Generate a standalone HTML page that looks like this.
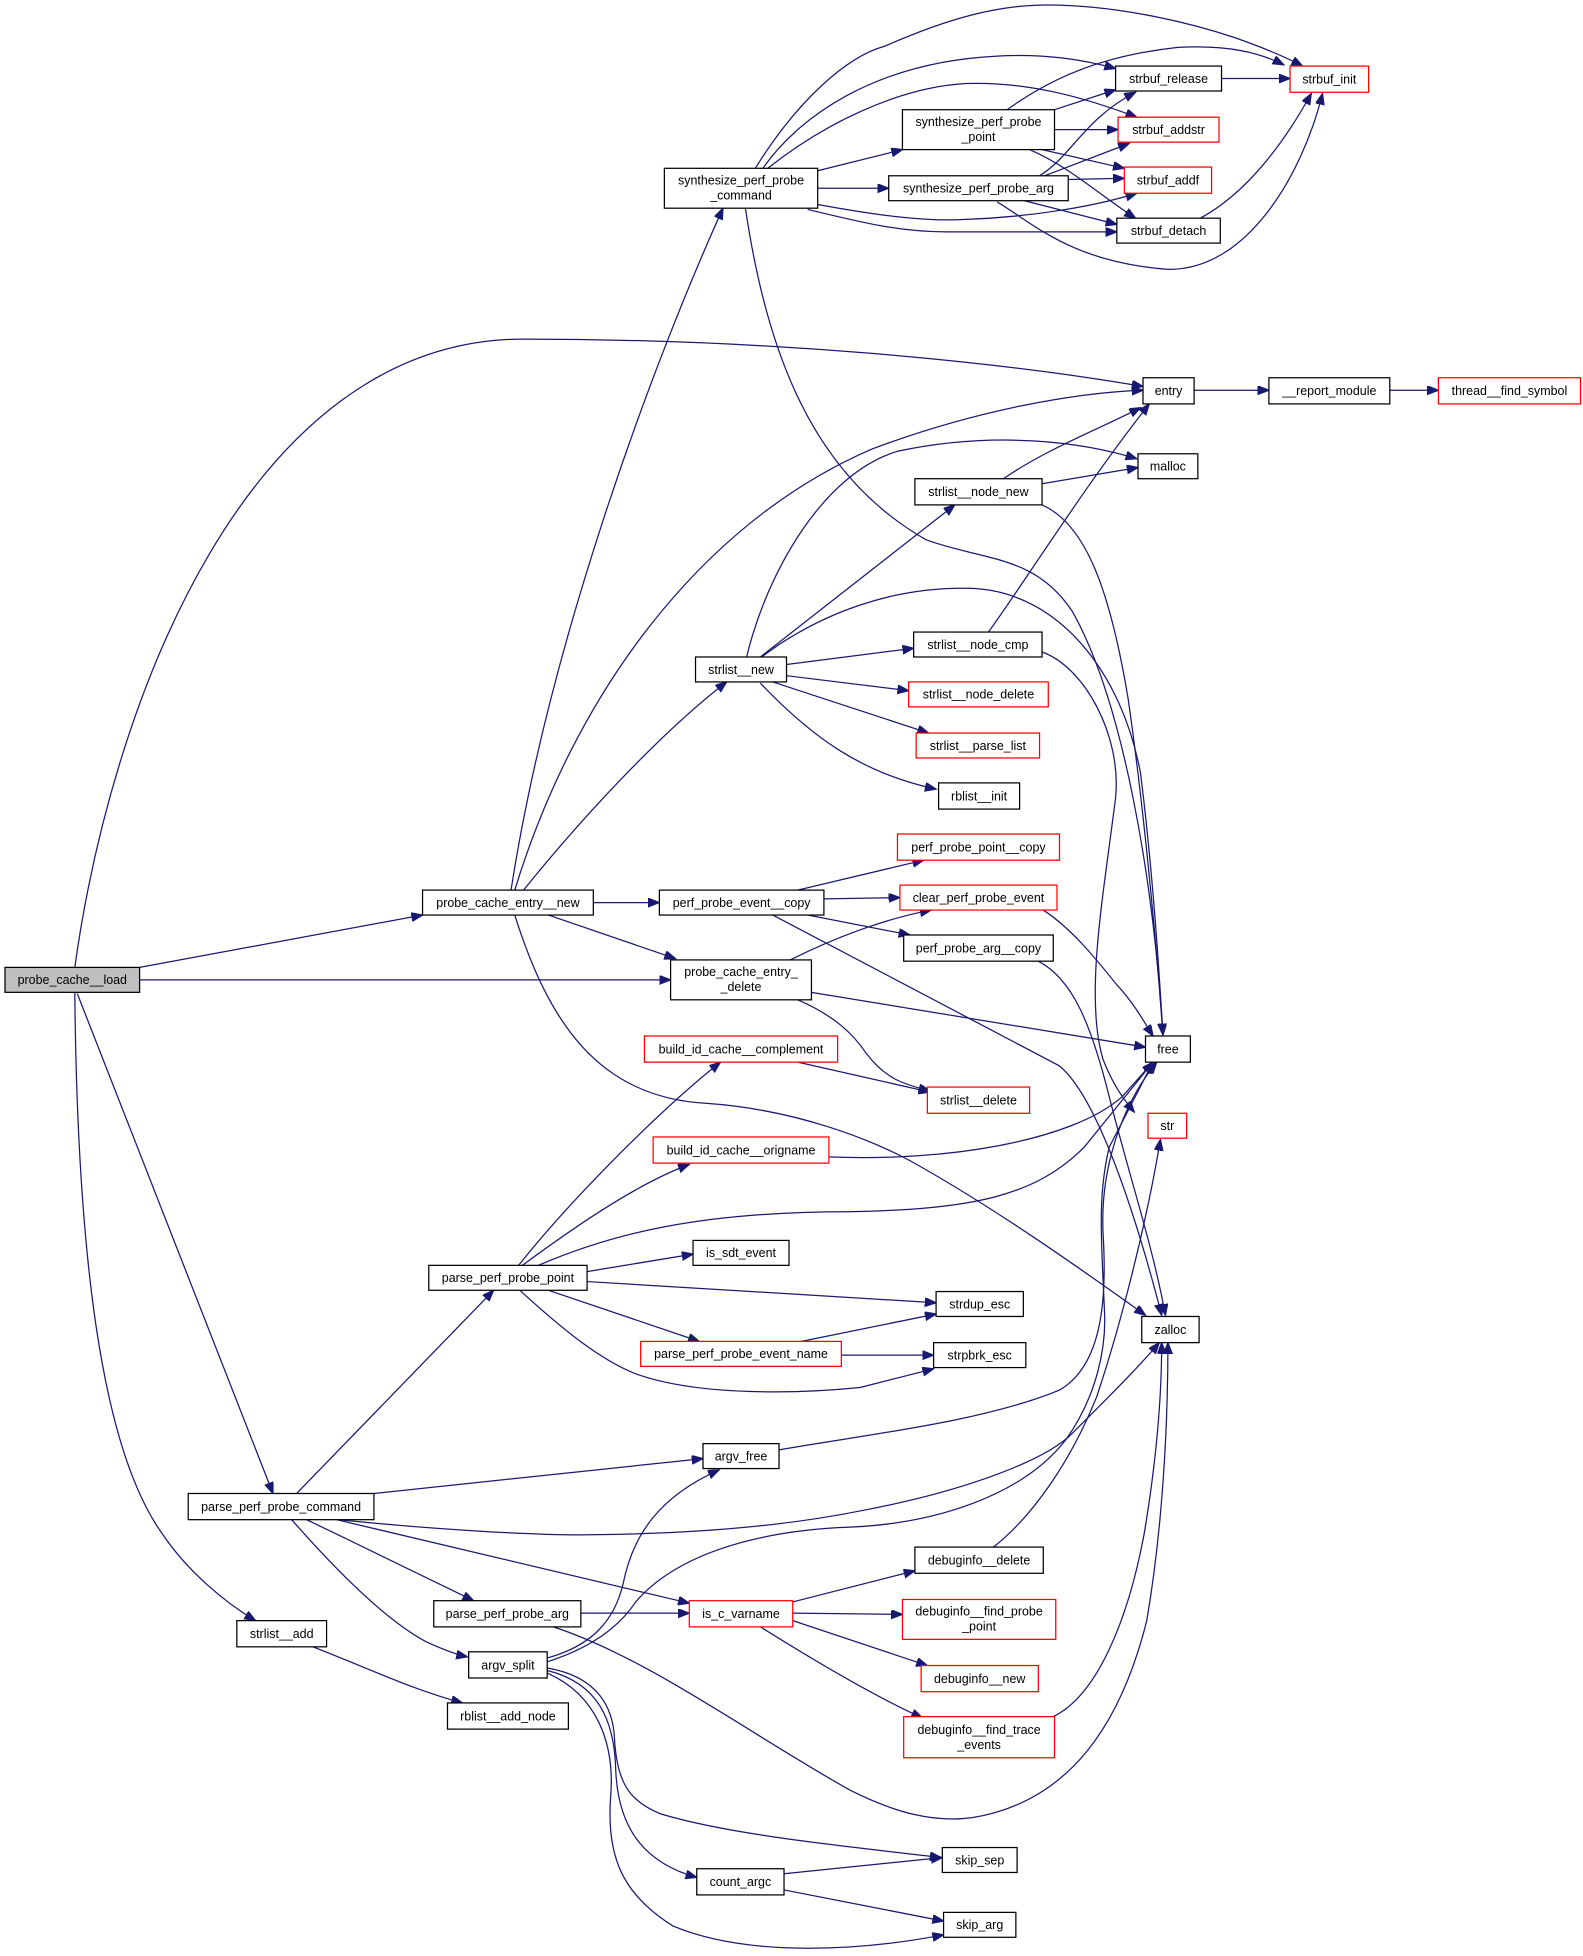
<!DOCTYPE html>
<html><head><meta charset="utf-8"><style>
html,body{margin:0;padding:0;background:#fff;}
svg{display:block;}
text{font-family:"Liberation Sans",Arial,sans-serif;font-size:10px;text-anchor:middle;fill:#000;}
.e{fill:none;stroke:#191970;stroke-width:1;}
.n{fill:#fff;stroke:#000;stroke-width:1;}
.r{fill:#fff;stroke:#ff0000;stroke-width:1;}
</style></head><body>
<svg width="1583" height="1956" viewBox="0 0 1270 1569" preserveAspectRatio="none" xmlns="http://www.w3.org/2000/svg">
<defs><marker id="a" markerUnits="userSpaceOnUse" markerWidth="10" markerHeight="8" refX="9" refY="3.5" orient="auto"><path d="M0,0 L9,3.5 L0,7 z" fill="#191970" stroke="#191970"/></marker></defs>
<g marker-end="url(#a)">
<path class="e" d="M112,776 L339,734"/>
<path class="e" d="M112,786 L538,786"/>
<path class="e" d="M60,776 C90,560 200,272 420,272 C620,272 800,290 917,310"/>
<path class="e" d="M62,797 L219,1198"/>
<path class="e" d="M60,796 C62,1000 80,1160 130,1230 C150,1260 180,1285 205,1300"/>
<path class="e" d="M410,714 C440,520 520,300 580,167"/>
<path class="e" d="M413,714 C460,560 560,420 700,360 C780,330 860,315 917,313"/>
<path class="e" d="M420,714 C480,640 540,580 583,547"/>
<path class="e" d="M476,724 L529,724"/>
<path class="e" d="M440,734 L542,769"/>
<path class="e" d="M413,734 C440,820 480,880 566,885 C640,890 700,915 730,931 C800,970 870,1020 919,1055"/>
<path class="e" d="M656,137 L724,120"/>
<path class="e" d="M656,151 L713,151"/>
<path class="e" d="M606,135 C640,80 680,45 710,37 C760,15 800,4 840,4 C900,4 960,20 990,30 C1010,37 1030,45 1045,53"/>
<path class="e" d="M612,135 C640,95 700,50 800,45 C840,43 870,48 895,55"/>
<path class="e" d="M616,135 C660,100 720,70 775,67 C830,65 880,82 912,94"/>
<path class="e" d="M656,164 C700,172 740,178 775,176 C830,174 880,165 912,155"/>
<path class="e" d="M648,168 C690,178 720,186 760,186 L896,186"/>
<path class="e" d="M598,167 C615,280 650,380 743,433 C790,450 830,445 860,490 C900,560 925,700 933,830"/>
<path class="e" d="M846,88 L895,72"/>
<path class="e" d="M846,104 L897,104"/>
<path class="e" d="M836,120 L902,135"/>
<path class="e" d="M808,88 C840,65 880,45 945,38 C985,36 1010,42 1030,52"/>
<path class="e" d="M826,120 C860,135 880,155 911,175"/>
<path class="e" d="M838,141 L906,115"/>
<path class="e" d="M834,141 C860,125 870,95 911,74"/>
<path class="e" d="M857,144 L902,143"/>
<path class="e" d="M822,161 L896,180"/>
<path class="e" d="M800,162 C830,180 860,210 936,216 C1000,218 1045,140 1061,75"/>
<path class="e" d="M980,63 L1035,63"/>
<path class="e" d="M963,175 C1000,155 1030,115 1052,75"/>
<path class="e" d="M958,313 L1018,313"/>
<path class="e" d="M1115,313 L1154,313"/>
<path class="e" d="M599,527 C615,460 660,380 720,362 C800,345 870,355 912,368"/>
<path class="e" d="M610,527 L766,405"/>
<path class="e" d="M611,527 C660,490 720,470 780,472 C850,475 900,540 915,620 C925,700 930,780 933,830"/>
<path class="e" d="M631,533 L733,520"/>
<path class="e" d="M631,542 L729,554"/>
<path class="e" d="M620,547 L745,588"/>
<path class="e" d="M610,548 C650,590 690,620 751,633"/>
<path class="e" d="M836,388 L913,375"/>
<path class="e" d="M805,384 C840,360 880,345 915,327"/>
<path class="e" d="M836,405 C870,420 890,470 905,560 C918,650 928,760 933,830"/>
<path class="e" d="M793,507 C820,470 870,390 922,324"/>
<path class="e" d="M836,523 C870,535 900,590 895,640 C885,720 870,800 885,850 C893,870 900,880 910,892"/>
<path class="e" d="M640,714 L741,690"/>
<path class="e" d="M661,721 L722,720"/>
<path class="e" d="M648,734 L730,750"/>
<path class="e" d="M620,734 L850,855 C880,880 910,970 932,1055"/>
<path class="e" d="M833,771 C860,785 875,820 890,880 C905,940 925,1000 935,1055"/>
<path class="e" d="M837,730 C860,745 880,770 896,790 C910,805 918,820 925,831"/>
<path class="e" d="M634,770 C670,752 710,737 747,730"/>
<path class="e" d="M651,796 L919,840"/>
<path class="e" d="M640,802 C670,815 685,830 695,845 C710,865 725,870 746,875"/>
<path class="e" d="M640,852 L746,876"/>
<path class="e" d="M665,928 C760,932 860,915 900,880 L925,852"/>
<path class="e" d="M416,1015 C460,960 530,890 578,852"/>
<path class="e" d="M419,1015 C460,985 510,950 553,934"/>
<path class="e" d="M432,1015 C490,990 560,972 680,972 C780,970 830,960 870,920 L925,852"/>
<path class="e" d="M471,1020 L556,1006"/>
<path class="e" d="M471,1028 L751,1045"/>
<path class="e" d="M440,1035 L561,1076"/>
<path class="e" d="M417,1035 C450,1065 480,1090 510,1102 C560,1120 640,1118 690,1113 L749,1098"/>
<path class="e" d="M643,1076 L751,1054"/>
<path class="e" d="M675,1087 L749,1087"/>
<path class="e" d="M625,1163 C700,1150 790,1140 850,1115 C885,1095 888,1040 885,990 C882,930 905,880 928,852"/>
<path class="e" d="M238,1198 L396,1035"/>
<path class="e" d="M300,1198 L564,1170"/>
<path class="e" d="M271,1219 C360,1228 440,1232 480,1231 C570,1230 640,1222 690,1212 C780,1195 840,1170 860,1150 C890,1120 915,1095 930,1077"/>
<path class="e" d="M270,1219 L553,1286"/>
<path class="e" d="M246,1219 C290,1240 330,1260 380,1284"/>
<path class="e" d="M234,1219 C270,1260 310,1300 342,1317 C355,1323 365,1327 375,1329"/>
<path class="e" d="M466,1294 L553,1294"/>
<path class="e" d="M444,1305 C520,1330 600,1390 682,1436 C720,1455 750,1462 780,1458 C860,1445 900,1380 920,1300 C932,1230 937,1150 937,1077"/>
<path class="e" d="M251,1321 C300,1340 330,1355 371,1366"/>
<path class="e" d="M439,1330 C475,1320 493,1300 500,1270 C508,1230 530,1200 577,1179"/>
<path class="e" d="M439,1333 C480,1320 500,1300 510,1285 C540,1250 600,1228 682,1225 C750,1222 820,1200 855,1155 C880,1120 888,1080 886,1050 C884,1000 880,960 890,920 L925,852"/>
<path class="e" d="M439,1338 C480,1345 492,1370 493,1395 C495,1430 505,1445 530,1455 C580,1470 650,1478 755,1490"/>
<path class="e" d="M439,1340 C480,1350 493,1380 494,1420 C496,1470 520,1495 559,1506"/>
<path class="e" d="M439,1342 C480,1360 493,1400 490,1440 C486,1490 500,1520 540,1545 C600,1570 690,1565 757,1552"/>
<path class="e" d="M629,1503 L756,1490"/>
<path class="e" d="M629,1516 L757,1541"/>
<path class="e" d="M636,1285 L734,1260"/>
<path class="e" d="M636,1294 L724,1295"/>
<path class="e" d="M636,1300 L744,1336"/>
<path class="e" d="M610,1305 C650,1330 700,1360 740,1378"/>
<path class="e" d="M845,1377 C880,1360 905,1300 918,1230 C928,1170 932,1120 932,1077"/>
<path class="e" d="M797,1241 C830,1215 860,1170 880,1120 C900,1060 920,980 931,914"/>
</g>
<g>
<rect x="4" y="776" width="108" height="20" fill="#bfbfbf" stroke="#000"/><text x="58" y="789.5">probe_cache__load</text>
<rect class="n" x="533" y="135" width="123" height="32"/><text x="594.5" y="148">synthesize_perf_probe</text><text x="594.5" y="160">_command</text>
<rect class="n" x="724" y="88" width="122" height="32"/><text x="785" y="101">synthesize_perf_probe</text><text x="785" y="113">_point</text>
<rect class="n" x="713" y="141" width="144" height="20"/><text x="785" y="154.5">synthesize_perf_probe_arg</text>
<rect class="n" x="895" y="53" width="85" height="20"/><text x="937.5" y="66.5">strbuf_release</text>
<rect class="r" x="897" y="94" width="81" height="20"/><text x="937.5" y="107.5">strbuf_addstr</text>
<rect class="r" x="902" y="134" width="70" height="21"/><text x="937" y="148">strbuf_addf</text>
<rect class="n" x="896" y="175" width="83" height="20"/><text x="937.5" y="188.5">strbuf_detach</text>
<rect class="r" x="1035" y="53" width="63" height="21"/><text x="1066.5" y="67">strbuf_init</text>
<rect class="n" x="917" y="303" width="41" height="21"/><text x="937.5" y="317">entry</text>
<rect class="n" x="1018" y="303" width="97" height="21"/><text x="1066.5" y="317">__report_module</text>
<rect class="r" x="1154" y="303" width="114" height="21"/><text x="1211" y="317">thread__find_symbol</text>
<rect class="n" x="913" y="364" width="48" height="20"/><text x="937" y="377.5">malloc</text>
<rect class="n" x="734" y="384" width="102" height="21"/><text x="785" y="398">strlist__node_new</text>
<rect class="n" x="733" y="507" width="103" height="20"/><text x="784.5" y="520.5">strlist__node_cmp</text>
<rect class="n" x="558" y="527" width="73" height="20"/><text x="594.5" y="540.5">strlist__new</text>
<rect class="r" x="729" y="547" width="112" height="20"/><text x="785" y="560.5">strlist__node_delete</text>
<rect class="r" x="735" y="588" width="99" height="20"/><text x="784.5" y="601.5">strlist__parse_list</text>
<rect class="n" x="753" y="628" width="65" height="21"/><text x="785.5" y="642">rblist__init</text>
<rect class="r" x="720" y="669" width="130" height="21"/><text x="785" y="683">perf_probe_point__copy</text>
<rect class="r" x="722" y="710" width="126" height="20"/><text x="785" y="723.5">clear_perf_probe_event</text>
<rect class="n" x="725" y="750" width="120" height="21"/><text x="785" y="764">perf_probe_arg__copy</text>
<rect class="n" x="339" y="714" width="137" height="20"/><text x="407.5" y="727.5">probe_cache_entry__new</text>
<rect class="n" x="529" y="714" width="132" height="20"/><text x="595" y="727.5">perf_probe_event__copy</text>
<rect class="n" x="538" y="770" width="113" height="32"/><text x="594.5" y="783">probe_cache_entry_</text><text x="594.5" y="795">_delete</text>
<rect class="n" x="919" y="831" width="36" height="21"/><text x="937" y="845">free</text>
<rect class="r" x="517" y="831" width="155" height="21"/><text x="594.5" y="845">build_id_cache__complement</text>
<rect class="r" x="744" y="872" width="82" height="21"/><text x="785" y="886">strlist__delete</text>
<rect class="r" x="921" y="893" width="31" height="20"/><text x="936.5" y="906.5">str</text>
<rect class="r" x="524" y="912" width="141" height="21"/><text x="594.5" y="926">build_id_cache__origname</text>
<rect class="n" x="344" y="1015" width="127" height="20"/><text x="407.5" y="1028.5">parse_perf_probe_point</text>
<rect class="n" x="556" y="995" width="77" height="20"/><text x="594.5" y="1008.5">is_sdt_event</text>
<rect class="r" x="514" y="1076" width="161" height="20"/><text x="594.5" y="1089.5">parse_perf_probe_event_name</text>
<rect class="n" x="751" y="1036" width="70" height="20"/><text x="786" y="1049.5">strdup_esc</text>
<rect class="n" x="749" y="1077" width="74" height="20"/><text x="786" y="1090.5">strpbrk_esc</text>
<rect class="n" x="916" y="1056" width="46" height="21"/><text x="939" y="1070">zalloc</text>
<rect class="n" x="564" y="1158" width="61" height="20"/><text x="594.5" y="1171.5">argv_free</text>
<rect class="n" x="151" y="1198" width="149" height="21"/><text x="225.5" y="1212">parse_perf_probe_command</text>
<rect class="n" x="348" y="1284" width="118" height="21"/><text x="407" y="1298">parse_perf_probe_arg</text>
<rect class="r" x="553" y="1284" width="83" height="21"/><text x="594.5" y="1298">is_c_varname</text>
<rect class="n" x="190" y="1300" width="72" height="21"/><text x="226" y="1314">strlist__add</text>
<rect class="n" x="376" y="1325" width="63" height="21"/><text x="407.5" y="1339">argv_split</text>
<rect class="n" x="359" y="1366" width="97" height="21"/><text x="407.5" y="1380">rblist__add_node</text>
<rect class="n" x="559" y="1499" width="70" height="21"/><text x="594" y="1513">count_argc</text>
<rect class="n" x="734" y="1241" width="103" height="21"/><text x="785.5" y="1255">debuginfo__delete</text>
<rect class="r" x="724" y="1283" width="123" height="32"/><text x="785.5" y="1296">debuginfo__find_probe</text><text x="785.5" y="1308">_point</text>
<rect class="r" x="739" y="1336" width="94" height="21"/><text x="786" y="1350">debuginfo__new</text>
<rect class="r" x="725" y="1377" width="121" height="33"/><text x="785.5" y="1391">debuginfo__find_trace</text><text x="785.5" y="1403">_events</text>
<rect class="n" x="756" y="1482" width="60" height="20"/><text x="786" y="1495.5">skip_sep</text>
<rect class="n" x="757" y="1534" width="58" height="20"/><text x="786" y="1547.5">skip_arg</text>
</g>
</svg>
</body></html>
